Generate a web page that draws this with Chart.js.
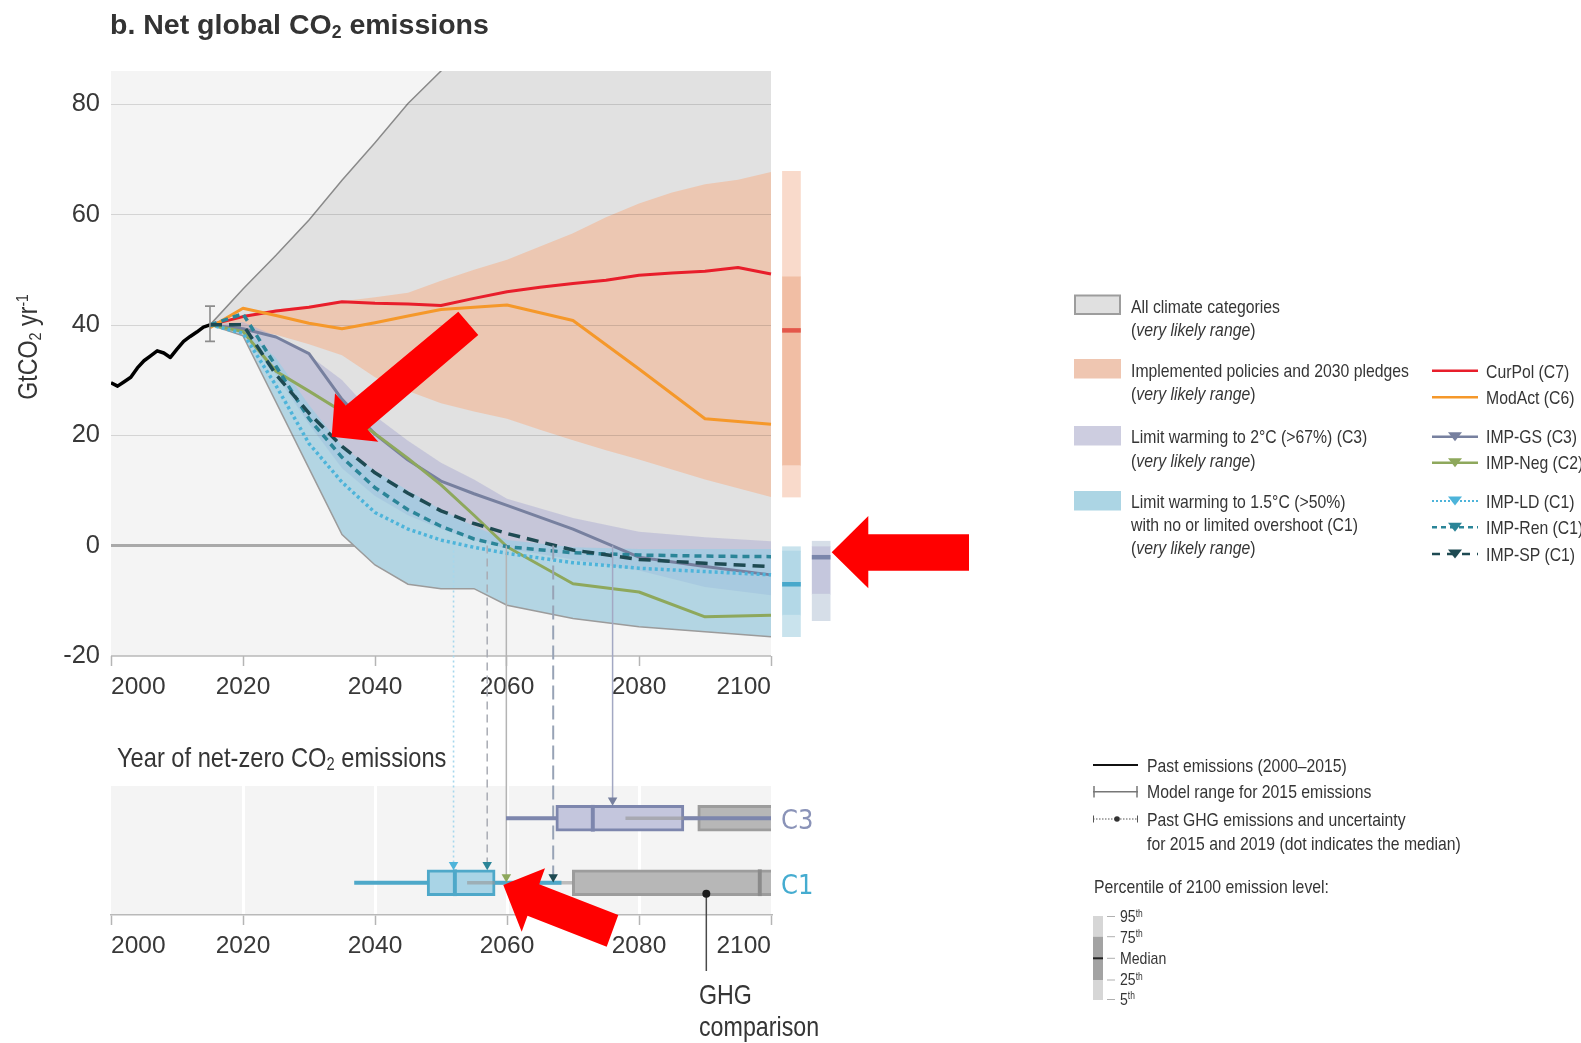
<!DOCTYPE html>
<html lang="en">
<head>
<meta charset="utf-8">
<title>Net global CO2 emissions</title>
<script src="https://cdn.jsdelivr.net/npm/chart.js@4.4.1/dist/chart.umd.min.js"></script>
<style>
  html, body { margin: 0; padding: 0; background: #ffffff; }
  body {
    width: 1581px; height: 1043px; position: relative; overflow: hidden;
    font-family: 'Liberation Sans', Arial, sans-serif;
    color: #353535;
  }
  canvas { position: absolute; left: 0; top: 0; }
  #emissions { z-index: 1; }
  #netzero { z-index: 2; }
  .t { position: absolute; white-space: nowrap; line-height: 1; z-index: 4; transform: scaleX(0.83); transform-origin: 0 50%; }
  .sub { font-size: 0.62em; position: relative; top: 0.22em; line-height: 0; }
  .sup { font-size: 0.6em; position: relative; top: -0.55em; line-height: 0; }
  .title { font-weight: bold; color: #333; transform: none; }
  svg.overlay { position: absolute; left: 0; top: 0; z-index: 3; }
</style>
</head>
<body>
<canvas id="emissions" width="1581" height="1043"></canvas>
<canvas id="netzero" width="1581" height="1043"></canvas>

<div class="t title" style="left:110px;top:10px;font-size:28.5px;">b. Net global CO<span class="sub">2</span> emissions</div>
<div class="t" style="left:28px;top:347px;font-size:28px;transform:translate(-50%,-50%) rotate(-90deg) scaleX(0.83);transform-origin:50% 50%;">GtCO<span class="sub">2</span> yr<span class="sup">-1</span></div>
<div class="t" style="left:117px;top:742.5px;font-size:28.5px;">Year of net-zero CO<span class="sub">2</span> emissions</div>
<div class="t" style="left:699px;top:981px;font-size:28px;">GHG</div>
<div class="t" style="left:699px;top:1013.3px;font-size:28px;">comparison</div>

<!-- range legend -->
<div class="t" style="left:1131px;top:296.7px;font-size:19px;">All climate categories</div>
<div class="t" style="left:1131px;top:320px;font-size:19px;">(<i>very likely range</i>)</div>
<div class="t" style="left:1131px;top:360.7px;font-size:19px;">Implemented policies and 2030 pledges</div>
<div class="t" style="left:1131px;top:384px;font-size:19px;">(<i>very likely range</i>)</div>
<div class="t" style="left:1131px;top:427.4px;font-size:19px;">Limit warming to 2°C (&gt;67%) (C3)</div>
<div class="t" style="left:1131px;top:450.7px;font-size:19px;">(<i>very likely range</i>)</div>
<div class="t" style="left:1131px;top:491.7px;font-size:19px;">Limit warming to 1.5°C (&gt;50%)</div>
<div class="t" style="left:1131px;top:515.2px;font-size:19px;">with no or limited overshoot (C1)</div>
<div class="t" style="left:1131px;top:538.4px;font-size:19px;">(<i>very likely range</i>)</div>

<!-- pathway legend -->
<div class="t" style="left:1486px;top:361.7px;font-size:19px;">CurPol (C7)</div>
<div class="t" style="left:1486px;top:388px;font-size:19px;">ModAct (C6)</div>
<div class="t" style="left:1486px;top:427.4px;font-size:19px;">IMP-GS (C3)</div>
<div class="t" style="left:1486px;top:453.4px;font-size:19px;">IMP-Neg (C2)</div>
<div class="t" style="left:1486px;top:491.7px;font-size:19px;">IMP-LD (C1)</div>
<div class="t" style="left:1486px;top:518px;font-size:19px;">IMP-Ren (C1)</div>
<div class="t" style="left:1486px;top:544.7px;font-size:19px;">IMP-SP (C1)</div>

<!-- key for lines and percentiles -->
<div class="t" style="left:1147px;top:755.7px;font-size:19px;">Past emissions (2000–2015)</div>
<div class="t" style="left:1147px;top:782.4px;font-size:19px;">Model range for 2015 emissions</div>
<div class="t" style="left:1147px;top:809.7px;font-size:19px;">Past GHG emissions and uncertainty</div>
<div class="t" style="left:1147px;top:834px;font-size:19px;">for 2015 and 2019 (dot indicates the median)</div>
<div class="t" style="left:1094px;top:877px;font-size:19px;">Percentile of 2100 emission level:</div>
<div class="t" style="left:1120px;top:908.2px;font-size:17px;">95<span class="sup">th</span></div>
<div class="t" style="left:1120px;top:928.7px;font-size:17px;">75<span class="sup">th</span></div>
<div class="t" style="left:1120px;top:950px;font-size:17px;">Median</div>
<div class="t" style="left:1120px;top:971.2px;font-size:17px;">25<span class="sup">th</span></div>
<div class="t" style="left:1120px;top:990.7px;font-size:17px;">5<span class="sup">th</span></div>

<svg class="overlay" width="1581" height="1043" viewBox="0 0 1581 1043">
  <!-- range swatches -->
  <rect x="1075" y="295.5" width="45" height="18.5" fill="#e0e0e0" stroke="#9d9d9d" stroke-width="2"/>
  <rect x="1074" y="359" width="47" height="19.5" fill="#efc6b1"/>
  <rect x="1074" y="426" width="47" height="19.5" fill="#cdcde0"/>
  <rect x="1074" y="491" width="47" height="19.5" fill="#acd5e4"/>
  <!-- pathway keys -->
  <line x1="1432" x2="1478" y1="370.7" y2="370.7" stroke="#e81e2b" stroke-width="2.5"/>
  <line x1="1432" x2="1478" y1="397.3" y2="397.3" stroke="#f5982a" stroke-width="2.5"/>
  <line x1="1432" x2="1478" y1="436.7" y2="436.7" stroke="#77809f" stroke-width="2.5"/>
  <polygon points="1448,432.2 1462,432.2 1455,441.2" fill="#77809f"/>
  <line x1="1432" x2="1478" y1="462.7" y2="462.7" stroke="#8ea85c" stroke-width="2.5"/>
  <polygon points="1448,458.2 1462,458.2 1455,467.2" fill="#8ea85c"/>
  <line x1="1432" x2="1478" y1="501" y2="501" stroke="#4db4da" stroke-width="2" stroke-dasharray="2,2"/>
  <polygon points="1448,496.5 1462,496.5 1455,505.5" fill="#4db4da"/>
  <line x1="1432" x2="1478" y1="527.3" y2="527.3" stroke="#2b8598" stroke-width="2.5" stroke-dasharray="5,4"/>
  <polygon points="1448,522.8 1462,522.8 1455,531.8" fill="#2b8598"/>
  <line x1="1432" x2="1478" y1="554" y2="554" stroke="#1e4a52" stroke-width="2.5" stroke-dasharray="8,7"/>
  <polygon points="1448,549.5 1462,549.5 1455,558.5" fill="#1e4a52"/>
  <!-- line keys -->
  <line x1="1093" x2="1138" y1="765" y2="765" stroke="#111" stroke-width="2"/>
  <g stroke="#777" stroke-width="1.5">
    <line x1="1093" x2="1138" y1="791.7" y2="791.7"/>
    <line x1="1094" x2="1094" y1="786" y2="797.4"/>
    <line x1="1137" x2="1137" y1="786" y2="797.4"/>
  </g>
  <g stroke="#555" stroke-width="1">
    <line x1="1093" x2="1138" y1="819" y2="819" stroke-dasharray="1.5,1.5"/>
    <line x1="1093.5" x2="1093.5" y1="815.5" y2="822.5"/>
    <line x1="1137.5" x2="1137.5" y1="815.5" y2="822.5"/>
  </g>
  <circle cx="1117" cy="819" r="2.8" fill="#333"/>
  <!-- percentile key -->
  <rect x="1093" y="916" width="10" height="20.7" fill="#d6d6d6"/>
  <rect x="1093" y="936.7" width="10" height="43.3" fill="#a3a3a3"/>
  <rect x="1093" y="980" width="10" height="20" fill="#d6d6d6"/>
  <line x1="1093" x2="1103" y1="958.3" y2="958.3" stroke="#222" stroke-width="2"/>
  <g stroke="#b0b0b0" stroke-width="1">
    <line x1="1107" x2="1115" y1="916.5" y2="916.5"/>
    <line x1="1107" x2="1115" y1="936.7" y2="936.7"/>
    <line x1="1107" x2="1115" y1="958.3" y2="958.3"/>
    <line x1="1107" x2="1115" y1="980" y2="980"/>
    <line x1="1107" x2="1115" y1="999.5" y2="999.5"/>
  </g>
  <!-- highlight arrows -->
  <polygon fill="#ff0000" points="331.7,436.7 335,393.3 345.8,405.4 458.3,311.7 478.3,335 367.5,429.6 378.3,441.7"/>
  <polygon fill="#ff0000" points="831.7,552.3 868.3,516 868.3,534.3 969,534.3 969,570.7 868.3,570.7 868.3,588.3"/>
  <polygon fill="#ff0000" points="503.3,885 545,868.3 539.2,884.2 618.3,915 606.7,946.7 527.5,915.8 521.7,931.7"/>
</svg>

<script>
// ---------------- emissions data (GtCO2 per year) ----------------
const pastYears     = [2000, 2001, 2002, 2003, 2004, 2005, 2006, 2007, 2008, 2009, 2010, 2011, 2012, 2013, 2014, 2015];
const pastEmissions = [29.5, 28.9, 29.7, 30.5, 32.2, 33.5, 34.4, 35.3, 34.9, 34.1, 35.6, 37.0, 37.9, 38.7, 39.6, 40.0];
const modelRangeYear = 2015;
const modelRange2015 = [37.0, 43.4];

const policyYears = [2015, 2020, 2025, 2030, 2035, 2040, 2045, 2050, 2055, 2060, 2065, 2070, 2075, 2080, 2085, 2090, 2095, 2100];
const curPol      = [40.0, 41.5, 42.5, 43.2, 44.2, 43.9, 43.8, 43.5, 44.8, 46.0, 46.8, 47.5, 48.1, 49.0, 49.4, 49.7, 50.4, 49.2];
const policyUpper = [40.0, 41.8, 42.8, 43.5, 44.3, 45.0, 45.8, 48.0, 50.0, 51.8, 54.2, 56.6, 59.5, 62.0, 64.0, 65.5, 66.3, 67.7];
const policyLower = [40.0, 39.3, 38.2, 36.5, 34.5, 30.5, 28.0, 25.8, 24.3, 23.0, 21.0, 19.1, 17.3, 15.6, 13.8, 12.0, 10.4, 8.8];
const allUpper    = [40.0, 46.5, 52.6, 59.0, 66.2, 73.0, 80.1, 86.0, 92.0, 98.0, 104.0, 110.0, 115.0, 120.0, 125.0, 130.0, 135.0, 140.0];

const pathYears = [2015, 2020, 2025, 2030, 2035, 2040, 2045, 2050, 2055, 2060, 2070, 2080, 2090, 2100];
const modAct  = [39.5, 43.0, 41.7, 40.3, 39.3, 40.4, 41.6, 42.8, 43.2, 43.6, 40.8, 32.0, 23.0, 22.0];
const impGS   = [40.0, 39.3, 37.8, 34.8, 26.5, 20.2, 15.5, 11.7, 9.4, 7.3, 3.0, -2.1, -3.8, -5.3];
const impNeg  = [40.0, 38.8, 31.6, 28.0, 24.3, 20.3, 15.8, 11.0, 5.5, -0.2, -6.9, -8.4, -12.9, -12.6];
const impLD   = [40.0, 38.5, 29.0, 18.5, 11.5, 6.0, 3.0, 1.0, -0.3, -1.4, -3.1, -4.1, -4.7, -5.3];
const impRen  = [40.0, 42.0, 32.5, 23.0, 16.0, 10.5, 6.5, 3.5, 1.2, -0.2, -1.3, -1.7, -1.9, -2.0];
const impSP   = [40.0, 40.0, 31.0, 24.0, 18.0, 13.2, 9.5, 6.3, 4.0, 2.2, -0.8, -2.5, -3.2, -3.8];
const c3Upper = [40.0, 40.5, 38.0, 34.5, 30.0, 23.5, 19.0, 15.0, 12.0, 8.5, 5.0, 2.5, 1.5, 0.8];
const c3Lower = [40.0, 38.0, 31.0, 22.0, 14.0, 9.0, 5.5, 3.0, 1.0, -0.5, -2.5, -4.5, -7.5, -9.0];
const c1Upper = [40.0, 39.5, 34.0, 25.5, 18.0, 13.5, 10.0, 6.5, 3.5, 1.0, -0.3, -0.6, -0.6, -0.6];
const c1Lower = [40.0, 38.0, 26.0, 14.0, 2.0, -3.5, -7.0, -7.8, -7.8, -10.8, -13.2, -14.7, -15.6, -16.5];
const allLower = c1Lower; // lowest edge of all categories follows the C1 range

// 2100 emission level percentiles: 5th, 25th, median, 75th, 95th
const policies2100 = [8.8, 14.5, 39.0, 48.7, 67.8];
const c1At2100     = [-16.5, -12.6, -7.0, -1.0, -0.2];
const c3At2100     = [-13.6, -8.8, -2.1, -0.2, 0.8];

const xTicks = [2000, 2020, 2040, 2060, 2080, 2100];
const yTicks = [-20, 0, 20, 40, 60, 80];

// ---------------- year of net-zero CO2 ----------------
const netZeroRows  = ['C1', 'C3'];
const c1NetZero    = [2036.9, 2047.9, 2052.1, 2058.2, 2068.2]; // min, q1, median, q3, max
const c3NetZero    = [2059.9, 2067.4, 2073.0, 2086.8, 2100.0];
const c1GhgNetZero = [2054.0, 2069.9, 2098.3, 2104.0];         // min, q1, median, q3
const c3GhgNetZero = [2078.0, 2088.9, 2104.0, 2108.0];
const impNames     = ['IMP-LD', 'IMP-Ren', 'IMP-Neg', 'IMP-SP', 'IMP-GS'];
const impNetZero   = [2051.9, 2057.0, 2059.9, 2067.0, 2076.0];
const impRow       = ['C1', 'C1', 'C1', 'C1', 'C3'];
const ghgDotYear   = 2090.2;

// ---------------- layout and styling ----------------
const TICK_FONT = "'Liberation Sans', Arial, sans-serif";
const ROW_FONT = "'DejaVu Sans Condensed', 'Liberation Sans', sans-serif";
const TICK_COLOR = '#383838';
const W = 1581, H = 1043;
const PLOT_LEFT = 111, PLOT_RIGHT_A = 837, PLOT_TOP_A = 71, PLOT_BOTTOM_A = 656;
const PLOT_RIGHT_B = 771, PLOT_TOP_B = 786, PLOT_BOTTOM_B = 915;
const DIST_X = [2103.1, 2103.1, 2107.6];            // columns right of 2100
const ROW_POS = { C1: 0.5, C3: 1.5 };
const MARK_LIFT = [0.28, 0.28, 0.09, 0.09, 0.28];
const IMP_COLORS = ['#4db4da', '#2b8598', '#8ea85c', '#1e4a52', '#77809f'];
const LINK_COLORS = ['#a6d7ec', '#a9acb4', '#b4b4b4', '#98a3b6', '#a3a8c3'];
const LINK_DASH = [[2, 3], [8, 5], [], [14, 6], []];
const LINK_WIDTH = [1.6, 1.5, 1.5, 2, 1.5];

Chart.defaults.font.family = TICK_FONT;

const pts = (xs, ys) => xs.map((x, i) => ({ x, y: ys[i] }));
const path = (label, xs, ys, color, extra) => Object.assign({
  type: 'line', label, data: pts(xs, ys), borderColor: color, borderWidth: 3,
  pointRadius: 0, fill: false, tension: 0, borderCapStyle: 'butt', borderJoinStyle: 'round'
}, extra || {});
const edge = (label, xs, ys, extra) => Object.assign({
  type: 'line', label, data: pts(xs, ys), borderColor: 'rgba(0,0,0,0)', borderWidth: 1,
  pointRadius: 0, fill: false, tension: 0
}, extra || {});

const distSets = [policies2100, c1At2100, c3At2100];
const distSeg = (label, lo, hi, colors) => ({
  type: 'bar', label, grouped: false, barThickness: 18, borderWidth: 0,
  data: distSets.map((d, i) => ({ x: DIST_X[i], y: [lo(d), hi(d)] })),
  backgroundColor: colors
});

const emissionsDecor = {
  id: 'emissionsDecor',
  beforeDraw(chart) {
    const { ctx, chartArea: a, scales: { x, y } } = chart;
    const l = x.getPixelForValue(xTicks[0]);
    const r = x.getPixelForValue(xTicks[xTicks.length - 1]);
    ctx.save();
    ctx.fillStyle = '#f4f4f4';
    ctx.fillRect(l, a.top, r - l, a.bottom - a.top);
    const y0 = y.getPixelForValue(0);
    ctx.strokeStyle = '#a9a9a9';
    ctx.lineWidth = 3;
    ctx.beginPath(); ctx.moveTo(l, y0); ctx.lineTo(r, y0); ctx.stroke();
    ctx.strokeStyle = '#b9b9b9';
    ctx.lineWidth = 1.5;
    ctx.beginPath(); ctx.moveTo(l, a.bottom); ctx.lineTo(r, a.bottom); ctx.stroke();
    ctx.restore();
  },
  beforeDatasetDraw(chart, args) {
    if (args.index !== 7) return; // grid sits above the ranges, below the pathways
    const { ctx, scales: { x, y } } = chart;
    const l = x.getPixelForValue(xTicks[0]);
    const r = x.getPixelForValue(xTicks[xTicks.length - 1]);
    ctx.save();
    ctx.strokeStyle = 'rgba(0,0,0,0.13)';
    ctx.lineWidth = 1;
    yTicks.filter(v => v > 0).forEach(v => {
      const py = Math.round(y.getPixelForValue(v)) + 0.5;
      ctx.beginPath(); ctx.moveTo(l, py); ctx.lineTo(r, py); ctx.stroke();
    });
    ctx.restore();
  },
  afterDatasetsDraw(chart) {
    const { ctx, scales: { x, y } } = chart;
    const px = x.getPixelForValue(modelRangeYear);
    const top = y.getPixelForValue(modelRange2015[1]);
    const bot = y.getPixelForValue(modelRange2015[0]);
    ctx.save();
    ctx.strokeStyle = '#8c8c8c';
    ctx.lineWidth = 1.6;
    ctx.beginPath();
    ctx.moveTo(px, top); ctx.lineTo(px, bot);
    ctx.moveTo(px - 5, top); ctx.lineTo(px + 5, top);
    ctx.moveTo(px - 5, bot); ctx.lineTo(px + 5, bot);
    ctx.stroke();
    ctx.restore();
  }
};

const emissionsChart = new Chart(document.getElementById('emissions'), {
  type: 'line',
  data: {
    datasets: [
      path('IMP-SP (C1)', pathYears, impSP, '#1e4a52', { borderDash: [12, 7], borderWidth: 3.5 }),
      path('IMP-Ren (C1)', pathYears, impRen, '#2b8598', { borderDash: [7, 5], borderWidth: 3.5 }),
      path('IMP-LD (C1)', pathYears, impLD, '#4db4da', { borderDash: [3, 3], borderWidth: 3.5 }),
      path('IMP-Neg (C2)', pathYears, impNeg, '#8ea85c'),
      path('IMP-GS (C3)', pathYears, impGS, '#77809f'),
      path('ModAct (C6)', pathYears, modAct, '#f5982a'),
      path('CurPol (C7)', policyYears, curPol, '#e81e2b'),
      path('Past emissions (2000–2015)', pastYears, pastEmissions, '#000000', { borderWidth: 3.5 }),
      edge('C1 lower', pathYears, c1Lower, { borderColor: '#9b9b9b', borderWidth: 1.5, fill: '+1', backgroundColor: 'rgba(150,205,228,0.62)' }),
      edge('C1 upper', pathYears, c1Upper),
      edge('C3 lower', pathYears, c3Lower, { fill: '+1', backgroundColor: 'rgba(176,176,212,0.55)' }),
      edge('C3 upper', pathYears, c3Upper),
      edge('Policies lower', policyYears, policyLower, { fill: '+1', backgroundColor: '#ecc7b2' }),
      edge('Policies upper', policyYears, policyUpper),
      edge('All upper', policyYears, allUpper, { borderColor: '#8a8a8a', borderWidth: 1.5, fill: '+1', backgroundColor: '#e1e1e1' }),
      edge('All lower', pathYears, allLower),
      distSeg('2100 median', d => d[2] - 0.35, d => d[2] + 0.35, ['#e4574a', '#47a8cb', '#7a86ab']),
      distSeg('2100 5th-25th', d => d[0], d => d[1], ['#f9dacb', '#c9e3ed', '#d6dee8']),
      distSeg('2100 25th-75th', d => d[1], d => d[3], ['#f1bea4', '#b3d8e7', '#c5c7dd']),
      distSeg('2100 75th-95th', d => d[3], d => d[4], ['#f9dacb', '#c9e3ed', '#d6dee8'])
    ]
  },
  options: {
    responsive: false,
    animation: false,
    events: [],
    layout: { padding: { top: PLOT_TOP_A, left: 0, right: W - PLOT_RIGHT_A, bottom: H - PLOT_BOTTOM_A - 45 } },
    plugins: { legend: { display: false }, tooltip: { enabled: false } },
    scales: {
      x: {
        type: 'linear', min: 2000, max: 2110, offset: false,
        afterBuildTicks: s => { s.ticks = xTicks.map(v => ({ value: v })); },
        afterFit: s => { s.height = 45; },
        grid: { offset: false, drawOnChartArea: false, drawTicks: true, tickLength: 10, tickColor: '#b5b5b5', tickWidth: 1.5 },
        border: { display: false },
        ticks: { align: 'inner', padding: 7, autoSkip: false, maxRotation: 0, color: TICK_COLOR, font: { size: 24.5 }, callback: v => String(v) }
      },
      y: {
        type: 'linear', min: -20, max: 86,
        afterBuildTicks: s => { s.ticks = yTicks.map(v => ({ value: v })); },
        afterFit: s => { s.width = PLOT_LEFT; },
        grid: { display: false, drawTicks: false },
        border: { display: false },
        ticks: { padding: 11, color: TICK_COLOR, font: { size: 25.5 }, callback: v => String(v) }
      }
    }
  },
  plugins: [emissionsDecor]
});

// ---------------- lower panel ----------------
const rowBoxes = { C1: c1NetZero, C3: c3NetZero };
const rowGhg = { C1: c1GhgNetZero, C3: c3GhgNetZero };
const rowColor = { C1: '#4ea8c9', C3: '#7d86ad' };
const rowFill = { C1: '#a9d4e6', C3: '#c4c6dd' };
const rowLabelColor = { C1: '#45acd0', C3: '#8a93b8' };

const netZeroDecor = {
  id: 'netZeroDecor',
  beforeDraw(chart) {
    const { ctx, chartArea: a } = chart;
    ctx.save();
    ctx.fillStyle = '#f4f4f4';
    ctx.fillRect(a.left, a.top, a.right - a.left, a.bottom - a.top);
    ctx.restore();
  },
  beforeDatasetsDraw(chart) {
    const { ctx, chartArea: a, scales: { x, y } } = chart;
    const y0 = emissionsChart.scales.y.getPixelForValue(0);
    ctx.save();
    impNetZero.forEach((yr, i) => {
      const px = x.getPixelForValue(yr);
      const py = y.getPixelForValue(ROW_POS[impRow[i]] + MARK_LIFT[i]);
      ctx.strokeStyle = LINK_COLORS[i];
      ctx.lineWidth = LINK_WIDTH[i];
      ctx.setLineDash(LINK_DASH[i]);
      ctx.beginPath(); ctx.moveTo(px, y0); ctx.lineTo(px, py); ctx.stroke();
    });
    // leader from the GHG marker to its caption
    const gx = x.getPixelForValue(ghgDotYear);
    ctx.setLineDash([]);
    ctx.strokeStyle = '#4a4a4a';
    ctx.lineWidth = 1.5;
    ctx.beginPath();
    ctx.moveTo(gx, y.getPixelForValue(ROW_POS.C1 - 0.17));
    ctx.lineTo(gx, a.bottom + 56);
    ctx.stroke();
    ctx.restore();
  }
};

const medianData = [], medianColors = [];
const whiskerData = [], whiskerColors = [];
const ghgWhiskerData = [], boxData = [], boxFills = [], boxBorders = [], ghgBoxData = [];
netZeroRows.forEach(r => {
  const b = rowBoxes[r], g = rowGhg[r], yy = ROW_POS[r];
  medianData.push({ x: [b[2] - 0.25, b[2] + 0.25], y: yy }); medianColors.push(rowColor[r]);
  medianData.push({ x: [g[2] - 0.25, g[2] + 0.25], y: yy }); medianColors.push('#8a8a8a');
  whiskerData.push({ x: [b[0], b[1]], y: yy }, { x: [b[3], b[4]], y: yy });
  whiskerColors.push(rowColor[r], rowColor[r]);
  ghgWhiskerData.push({ x: [g[0], g[1]], y: yy });
  boxData.push({ x: [b[1], b[3]], y: yy }); boxFills.push(rowFill[r]); boxBorders.push(rowColor[r]);
  ghgBoxData.push({ x: [g[1], g[3]], y: yy });
});

new Chart(document.getElementById('netzero'), {
  type: 'bar',
  data: {
    datasets: [
      {
        type: 'line', label: 'IMP net-zero year', showLine: false,
        data: impNetZero.map((yr, i) => ({ x: yr, y: ROW_POS[impRow[i]] + MARK_LIFT[i] })),
        pointStyle: 'triangle', pointRotation: 180, pointRadius: 5.5,
        pointBackgroundColor: IMP_COLORS, pointBorderWidth: 0
      },
      {
        type: 'line', label: 'GHG comparison', showLine: false,
        data: [{ x: ghgDotYear, y: ROW_POS.C1 - 0.17 }],
        pointRadius: 4, pointBackgroundColor: '#1c1c1c', pointBorderWidth: 0
      },
      { label: 'medians', grouped: false, barThickness: 26, data: medianData, backgroundColor: medianColors },
      { label: 'whiskers', grouped: false, barThickness: 3.5, data: whiskerData, backgroundColor: whiskerColors },
      { label: 'GHG whiskers', grouped: false, barThickness: 3, data: ghgWhiskerData, backgroundColor: 'rgba(150,150,150,0.6)' },
      { label: 'boxes', grouped: false, barThickness: 26, data: boxData, backgroundColor: boxFills, borderColor: boxBorders, borderWidth: 3, borderSkipped: false },
      { label: 'GHG boxes', grouped: false, barThickness: 26, data: ghgBoxData, backgroundColor: '#b7b7b7', borderColor: '#9c9c9c', borderWidth: 3, borderSkipped: false }
    ]
  },
  options: {
    indexAxis: 'y',
    responsive: false,
    animation: false,
    events: [],
    layout: { padding: { top: PLOT_TOP_B, left: PLOT_LEFT, right: W - PLOT_RIGHT_B - 60, bottom: H - PLOT_BOTTOM_B - 45 } },
    plugins: { legend: { display: false }, tooltip: { enabled: false } },
    scales: {
      x: {
        type: 'linear', min: 2000, max: 2100, position: 'bottom', offset: false,
        afterBuildTicks: s => { s.ticks = xTicks.map(v => ({ value: v })); },
        afterFit: s => { s.height = 45; },
        grid: {
          offset: false,
          color: c => (c.tick && c.tick.value > xTicks[0] && c.tick.value < xTicks[xTicks.length - 1]) ? '#ffffff' : 'rgba(0,0,0,0)',
          lineWidth: 3, drawTicks: true, tickLength: 10, tickColor: '#b5b5b5', tickWidth: 1.5
        },
        border: { display: true, color: '#b9b9b9', width: 1.5 },
        ticks: { align: 'inner', padding: 7, autoSkip: false, maxRotation: 0, color: TICK_COLOR, font: { size: 24.5 }, callback: v => String(v) }
      },
      y: {
        type: 'linear', min: 0, max: 2, position: 'right', offset: false,
        afterBuildTicks: s => { s.ticks = netZeroRows.map(r => ({ value: ROW_POS[r] })); },
        afterFit: s => { s.width = 60; },
        grid: { display: false, offset: false, drawTicks: false },
        border: { display: false },
        ticks: {
          padding: 10, labelOffset: 4, font: { size: 27, family: ROW_FONT },
          color: c => rowLabelColor[netZeroRows.find(r => ROW_POS[r] === c.tick.value)] || TICK_COLOR,
          callback: v => netZeroRows.find(r => ROW_POS[r] === v) || ''
        }
      }
    }
  },
  plugins: [netZeroDecor]
});
</script>
</body>
</html>
